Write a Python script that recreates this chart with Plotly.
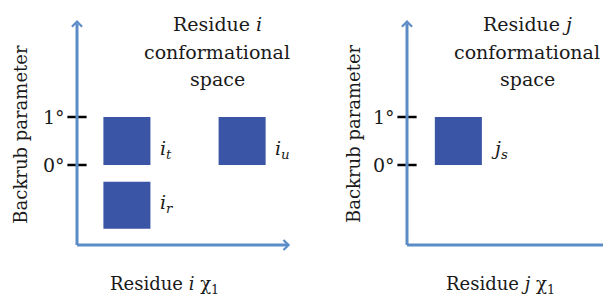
import plotly.graph_objects as go

# ---------------- data ----------------
tick_values = [0, 1]
tick_labels = ["0°", "1°"]
title_lines = ["Residue <i>{L}</i>", "conformational", "space"]
x_label = "Residue <i>{L}</i> χ<sub>1</sub>"
y_label = "Backrub parameter"

i_box_names = ["t", "u", "r"]
i_box_chi_lo = [0.55, 2.95, 0.55]
i_box_chi_hi = [1.53, 3.93, 1.53]
i_box_bb_lo = [0, 0, -1.33]
i_box_bb_hi = [1, 1, -0.35]

j_box_names = ["s"]
j_box_chi_lo = [0.58]
j_box_chi_hi = [1.56]
j_box_bb_lo = [0]
j_box_bb_hi = [1]

# ---------------- style / layout ----------------
FONT = "DejaVu Serif"
AXIS_COLOR = "#5b8cc8"
BOX_COLOR = "#3b55a6"
TXT_COLOR = "#1a1a1a"

# page body has an 8px margin; figure is sized to fit the window
W, H = 603, 291
PX = 48.0  # pixels per unit
ORIG_Y = 157.0
Y_RANGE = [-(H - ORIG_Y) / PX, ORIG_Y / PX]
X1_ORIG, X1_END = 69.0, 300.0
X1_RANGE = [-X1_ORIG / PX, (X1_END - X1_ORIG) / PX]
X2_START, X2_ORIG = 320.0, 399.0
X2_RANGE = [-(X2_ORIG - X2_START) / PX, (W - X2_ORIG) / PX]

AX_BOTTOM = -1.667
AX_TOP = 3.02
TITLE_Y = [2.9375, 2.354, 1.792]
I_LABEL_DY = [-0.17, -0.17, 0.03]
J_LABEL_DY = [-0.17]

fig = go.Figure()
annotations = []
shapes = []

panels = [
    dict(xr="x", yr="y", letter="i", names=i_box_names, lo=i_box_chi_lo, hi=i_box_chi_hi,
         blo=i_box_bb_lo, bhi=i_box_bb_hi, dy=I_LABEL_DY, xend=4.44, title_x=2.917, xlab_x=1.83, ylab_x=-1.17),
    dict(xr="x2", yr="y", letter="j", names=j_box_names, lo=j_box_chi_lo, hi=j_box_chi_hi,
         blo=j_box_bb_lo, bhi=j_box_bb_hi, dy=J_LABEL_DY, xend=4.35, title_x=2.5, xlab_x=1.94, ylab_x=-1.1),
]

def tf(size):
    return dict(family=FONT, size=size, color=TXT_COLOR)

arrow_style = dict(text="", showarrow=True, arrowhead=4, arrowsize=0.65, arrowwidth=3,
                   arrowcolor=AXIS_COLOR, standoff=0, startstandoff=0)

for p in panels:
    xr, yr = p["xr"], p["yr"]
    # axis arrows
    annotations.append(dict(x=0, y=AX_TOP, ax=0, ay=AX_BOTTOM - 0.03, xref=xr, yref=yr,
                            axref=xr, ayref=yr, **arrow_style))
    annotations.append(dict(x=p["xend"], y=AX_BOTTOM, ax=-0.03, ay=AX_BOTTOM, xref=xr, yref=yr,
                            axref=xr, ayref=yr, **arrow_style))
    # ticks
    tx, ty = [], []
    for v in tick_values:
        tx += [-0.2, 0.2, None]
        ty += [v, v, None]
    fig.add_trace(go.Scatter(x=tx, y=ty, mode="lines", line=dict(color="black", width=2.5),
                             xaxis=xr, yaxis=yr, showlegend=False, hoverinfo="skip"))
    for v, lab in zip(tick_values, tick_labels):
        annotations.append(dict(x=-0.21, y=v, xref=xr, yref=yr, text=lab, showarrow=False,
                                xanchor="right", yanchor="middle", font=tf(19)))
    # boxes
    for n, lo, hi, blo, bhi, dy in zip(p["names"], p["lo"], p["hi"], p["blo"], p["bhi"], p["dy"]):
        shapes.append(dict(type="rect", xref=xr, yref=yr, x0=lo, x1=hi, y0=blo, y1=bhi,
                           fillcolor=BOX_COLOR, line=dict(width=0)))
        annotations.append(dict(x=hi + 0.15, y=(blo + bhi) / 2 + dy, xref=xr, yref=yr,
                                text=f"<i>{p['letter']}</i><sub><i>{n}</i></sub>", showarrow=False,
                                xanchor="left", yanchor="middle", font=tf(19)))
    # titles
    for line, ty_ in zip(title_lines, TITLE_Y):
        annotations.append(dict(x=p["title_x"], y=ty_, xref=xr, yref=yr,
                                text=line.format(L=p["letter"]), showarrow=False,
                                xanchor="center", yanchor="middle", font=tf(19)))
    annotations.append(dict(x=p["xlab_x"], y=-2.5, xref=xr, yref=yr,
                            text=x_label.format(L=p["letter"]),
                            showarrow=False, xanchor="center", yanchor="middle", font=tf(18)))
    annotations.append(dict(x=p["ylab_x"], y=0.65, xref=xr, yref=yr, text=y_label,
                            textangle=-90, showarrow=False, xanchor="center", yanchor="middle",
                            font=tf(18)))

ax_common = dict(visible=False, showgrid=False, zeroline=False, fixedrange=True)
fig.update_layout(
    width=W, height=H,
    margin=dict(l=0, r=0, t=0, b=0),
    paper_bgcolor="white", plot_bgcolor="white",
    font=dict(family=FONT),
    xaxis=dict(domain=[0, X1_END / W], range=X1_RANGE, anchor="y", **ax_common),
    xaxis2=dict(domain=[X2_START / W, 1], range=X2_RANGE, anchor="y", **ax_common),
    yaxis=dict(domain=[0, 1], range=Y_RANGE, anchor="x", **ax_common),
    shapes=shapes,
    annotations=annotations,
    showlegend=False,
)

fig.write_html("out.html")
